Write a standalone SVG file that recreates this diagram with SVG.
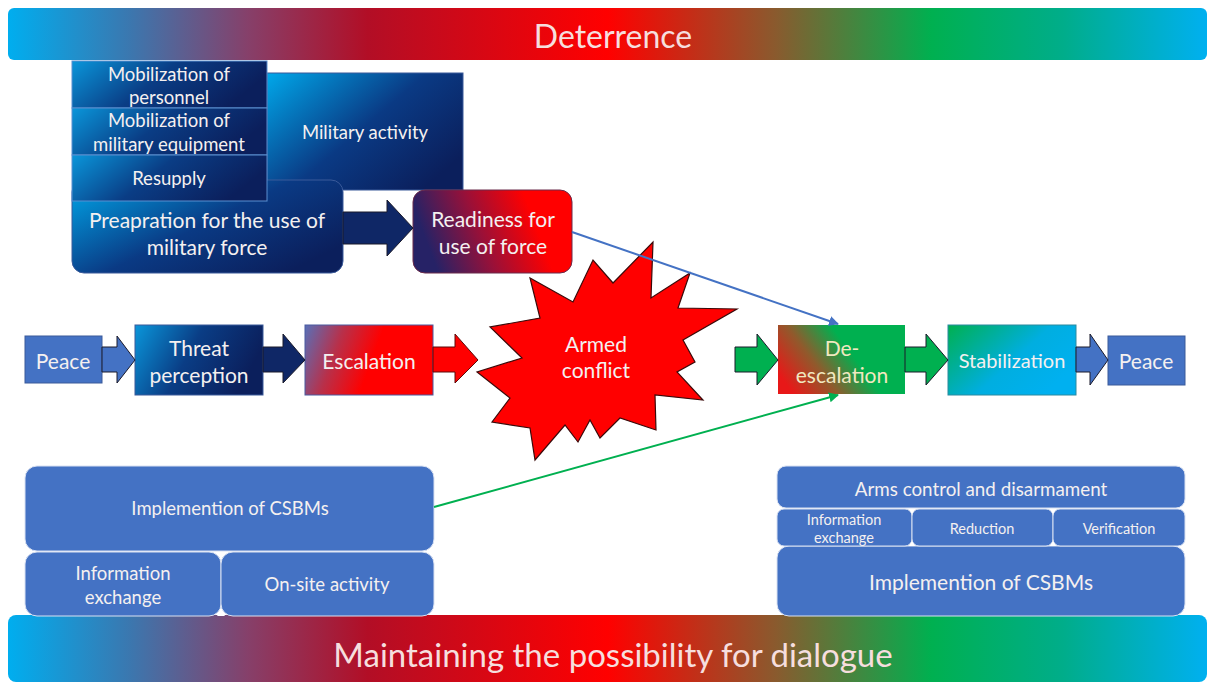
<svg xmlns="http://www.w3.org/2000/svg" width="1215" height="686" viewBox="0 0 1215 686">
<defs>
<linearGradient id="band" x1="0" y1="0" x2="1" y2="0">
<stop offset="0" stop-color="#00aeef"/>
<stop offset="0.1" stop-color="#3a78b0"/>
<stop offset="0.2" stop-color="#86406a"/>
<stop offset="0.3" stop-color="#b20e26"/>
<stop offset="0.5" stop-color="#ff0000"/>
<stop offset="0.64" stop-color="#8a5a2e"/>
<stop offset="0.77" stop-color="#00b050"/>
<stop offset="0.88" stop-color="#00ad8a"/>
<stop offset="1" stop-color="#00b0f0"/>
</linearGradient>
<linearGradient id="navy" x1="0" y1="0" x2="1" y2="0.7">
<stop offset="0" stop-color="#00a8ea"/>
<stop offset="0.55" stop-color="#0a3a84"/>
<stop offset="1" stop-color="#0b1f5c"/>
</linearGradient>
<linearGradient id="navyH" x1="0" y1="0" x2="1" y2="0.3">
<stop offset="0" stop-color="#0a96da"/>
<stop offset="0.5" stop-color="#0a3d85"/>
<stop offset="1" stop-color="#0b1f5c"/>
</linearGradient>
<linearGradient id="esc" x1="0" y1="0" x2="1" y2="0.2">
<stop offset="0" stop-color="#5870b8"/>
<stop offset="0.3" stop-color="#b8304a"/>
<stop offset="0.6" stop-color="#ff0000"/>
<stop offset="1" stop-color="#ff0000"/>
</linearGradient>
<linearGradient id="ready" x1="0" y1="0.2" x2="1" y2="0">
<stop offset="0" stop-color="#262266"/>
<stop offset="0.35" stop-color="#9a1038"/>
<stop offset="0.7" stop-color="#ff0000"/>
<stop offset="1" stop-color="#ff0000"/>
</linearGradient>
<linearGradient id="desc" x1="0" y1="0.7" x2="1" y2="0.3">
<stop offset="0" stop-color="#e81818"/>
<stop offset="0.3" stop-color="#905a2c"/>
<stop offset="0.6" stop-color="#00b050"/>
<stop offset="1" stop-color="#00b050"/>
</linearGradient>
<linearGradient id="stab" x1="0" y1="0" x2="1" y2="0.6">
<stop offset="0" stop-color="#00b050"/>
<stop offset="0.6" stop-color="#00aee0"/>
<stop offset="1" stop-color="#00b0f0"/>
</linearGradient>
<marker id="ahB" viewBox="0 0 10 10" refX="9" refY="5" markerWidth="5" markerHeight="5" orient="auto"><path d="M0,0 L10,5 L0,10 z" fill="#4472c4"/></marker>
<marker id="ahG" viewBox="0 0 10 10" refX="9" refY="5" markerWidth="5" markerHeight="5" orient="auto"><path d="M0,0 L10,5 L0,10 z" fill="#00b050"/></marker>
</defs>
<style>
text{font-family:Lato,"Liberation Sans",sans-serif;fill:#f4f0f0;text-anchor:middle;dominant-baseline:central}
.bx{fill:#4472c4;stroke:#d9e1f2;stroke-width:1}
.sub{stroke:#5b8fd0;stroke-width:1}
.arw{stroke:#1a1a2a;stroke-width:1}
.t18{font-size:18.5px}
.t21{font-size:21px}
.t14{font-size:14.5px}
</style>

<g id="deterrence">
<rect x="8" y="8" width="1199" height="52" rx="6" fill="url(#band)"/>
<text x="613" y="35" style="font-size:32px;fill:#f6dede">Deterrence</text>
</g>

<g id="dialogue">
<rect x="8" y="615" width="1199" height="67" rx="8" fill="url(#band)"/>
<text x="613" y="654" style="font-size:33px;fill:#f6dede">Maintaining the possibility for dialogue</text>
</g>

<g id="military-activity">
<rect x="267" y="73" width="196" height="117" fill="url(#navy)" stroke="#3a5a9a" stroke-width="1"/>
<text x="365" y="132" class="t18">Military activity</text>
</g>

<g id="preparation">
<rect x="72" y="180" width="271" height="93" rx="12" fill="url(#navy)" stroke="#3a5a9a" stroke-width="1"/>
<text x="207" y="219" class="t21">Preapration for the use of</text>
<text x="207" y="246" class="t21">military force</text>
</g>

<g id="mob-personnel">
<rect x="72" y="61" width="195" height="47" fill="url(#navyH)" class="sub"/>
<text x="169" y="74" class="t18">Mobilization of</text>
<text x="169" y="97" class="t18">personnel</text>
</g>
<g id="mob-equipment">
<rect x="72" y="108" width="195" height="47" fill="url(#navyH)" class="sub"/>
<text x="169" y="120" class="t18">Mobilization of</text>
<text x="169" y="144" class="t18">military equipment</text>
</g>
<g id="resupply">
<rect x="72" y="155" width="195" height="46" fill="url(#navyH)" class="sub"/>
<text x="169" y="178" class="t18">Resupply</text>
</g>

<g id="readiness">
<rect x="413" y="190" width="159" height="83" rx="12" fill="url(#ready)" stroke="#6a2a4a" stroke-width="1"/>
<text x="493" y="218" class="t21">Readiness for</text>
<text x="493" y="245" class="t21">use of force</text>
</g>

<g id="armed-conflict">
<polygon points="653,242 651,298 690,273 678,308 737,309 683,340 695,362 677,372 703,400 655,395 656,430 620,418 600,438 590,420 578,442 565,425 535,460 530,428 492,422 510,398 477,372 522,358 490,327 540,318 530,278 573,302 593,260 613,283" fill="#ff0000" stroke="#3a0a0a" stroke-width="1.2" stroke-linejoin="miter"/>
<text x="596" y="343" class="t21">Armed</text>
<text x="596" y="369" class="t21">conflict</text>
</g>

<g id="peace-left">
<rect x="25" y="336" width="77" height="47" fill="#4472c4" stroke="#3a5a9a" stroke-width="1"/>
<text x="63" y="360" class="t21">Peace</text>
</g>
<g id="threat">
<rect x="135" y="325" width="128" height="70" fill="url(#navyH)" stroke="#3a5a9a" stroke-width="1"/>
<text x="199" y="347" class="t21">Threat</text>
<text x="199" y="374" class="t21">perception</text>
</g>
<g id="escalation">
<rect x="305" y="325" width="128" height="70" fill="url(#esc)" stroke="#4a5aa0" stroke-width="1"/>
<text x="369" y="360" class="t21">Escalation</text>
</g>
<g id="de-escalation">
<rect x="778" y="325" width="127" height="69" fill="url(#desc)"/>
<text x="842" y="347" class="t21" style="fill:#f0e8c0">De-</text>
<text x="842" y="374" class="t21" style="fill:#f0e8c0">escalation</text>
</g>
<g id="stabilization">
<rect x="948" y="325" width="128" height="70" fill="url(#stab)" stroke="#2a8aa0" stroke-width="1"/>
<text x="1012" y="360" style="font-size:20px">Stabilization</text>
</g>
<g id="peace-right">
<rect x="1108" y="336" width="77" height="49" fill="#4472c4" stroke="#3a5a9a" stroke-width="1"/>
<text x="1146" y="360" class="t21">Peace</text>
</g>

<g id="csbm-left">
<rect x="25" y="466" width="409" height="85" rx="12" class="bx"/>
<text x="230" y="508" class="t18">Implemention of CSBMs</text>
<rect x="25" y="552" width="196" height="64" rx="12" class="bx"/>
<text x="123" y="573" class="t18">Information</text>
<text x="123" y="597" class="t18">exchange</text>
<rect x="221" y="552" width="213" height="64" rx="12" class="bx"/>
<text x="327" y="584" class="t18">On-site activity</text>
<polygon points="217,552 225,552 221,558" fill="#ffffff"/>
<polygon points="217,616 225,616 221,610" fill="#ffffff"/>
</g>

<g id="csbm-right">
<rect x="777" y="546" width="408" height="70" rx="12" class="bx"/>
<text x="981" y="581" style="font-size:21px">Implemention of CSBMs</text>
<rect x="777" y="466" width="408" height="42" rx="9" class="bx"/>
<text x="981" y="488" style="font-size:18.8px">Arms control and disarmament</text>
<rect x="777" y="509" width="135" height="37" rx="7" class="bx"/>
<text x="844" y="519" class="t14">Information</text>
<text x="844" y="537" class="t14">exchange</text>
<rect x="912" y="509" width="141" height="37" rx="7" class="bx"/>
<text x="982" y="528" class="t14">Reduction</text>
<rect x="1053" y="509" width="132" height="37" rx="7" class="bx"/>
<text x="1119" y="528" class="t14">Verification</text>
<polygon points="909,509 915,509 912,514" fill="#ffffff"/>
<polygon points="909,546 915,546 912,541" fill="#ffffff"/>
<polygon points="1050,509 1056,509 1053,514" fill="#ffffff"/>
<polygon points="1050,546 1056,546 1053,541" fill="#ffffff"/>
</g>

<g id="connectors">
<polygon class="arw" points="343,212 387,212 387,200 413,228 387,256 387,244 343,244" fill="#0f2766"/>
<polygon class="arw" points="102,347 117,347 117,336 135,360 117,383 117,372 102,372" fill="#4472c4"/>
<polygon class="arw" points="263,347 283,347 283,334 305,360 283,383 283,372 263,372" fill="#0f2766"/>
<polygon class="arw" points="433,347 455,347 455,334 478,360 455,383 455,372 433,372" fill="#ff0000" style="stroke:#5a0a0a"/>
<polygon class="arw" points="735,347 757,347 757,334 778,360 757,385 757,372 735,372" fill="#00b050"/>
<polygon class="arw" points="905,347 926,347 926,334 948,360 926,385 926,372 905,372" fill="#00b050"/>
<polygon class="arw" points="1076,347 1090,347 1090,334 1108,360 1090,385 1090,372 1076,372" fill="#4472c4"/>
<line x1="572" y1="232" x2="838" y2="324" stroke="#4472c4" stroke-width="2" marker-end="url(#ahB)"/>
<line x1="434" y1="507" x2="838" y2="395" stroke="#00b050" stroke-width="2" marker-end="url(#ahG)"/>
</g>
</svg>
